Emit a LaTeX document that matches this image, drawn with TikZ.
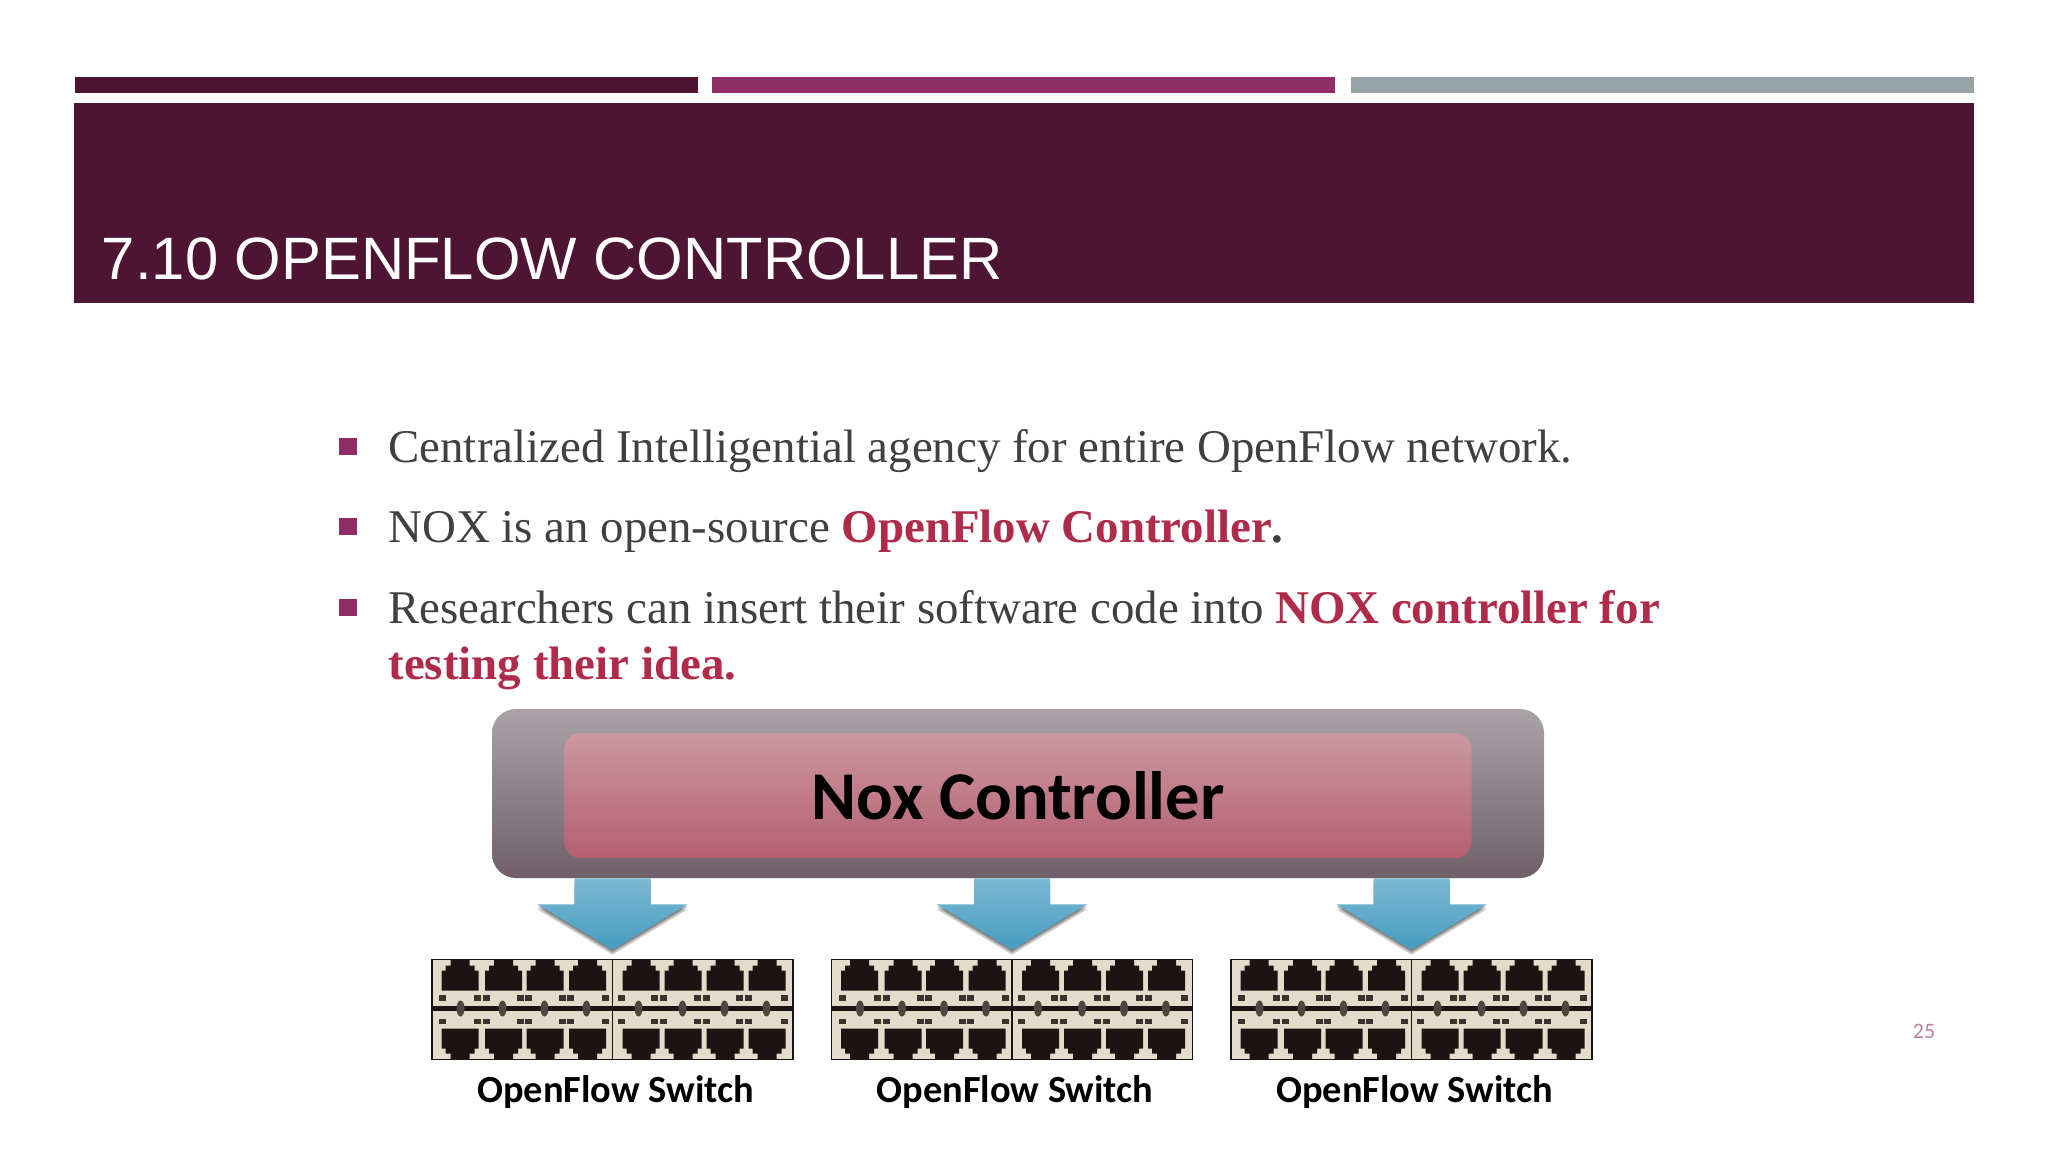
\documentclass[tikz,border=0pt]{standalone}
\usepackage{fontspec}
\setmainfont{Liberation Serif}
\newfontfamily\headfont{Liberation Sans}
\newfontfamily\labelfont{Carlito}
\usetikzlibrary{calc}
\definecolor{plum}{HTML}{4E1433}
\definecolor{berry}{HTML}{8F2D66}
\definecolor{slate}{HTML}{95A3A4}
\definecolor{bodygray}{HTML}{404040}
\definecolor{accent}{HTML}{B02A4A}
\definecolor{portdark}{HTML}{1C1412}
\definecolor{sand}{HTML}{E4DCCA}
\definecolor{outertop}{HTML}{A9A3A7}
\definecolor{outerbot}{HTML}{6F5F69}
\definecolor{innertop}{HTML}{CB98A1}
\definecolor{innerbot}{HTML}{B55F70}
\definecolor{flowtop}{HTML}{7DB8D4}
\definecolor{flowbot}{HTML}{459CC0}
\tikzset{bar/.style={minimum height=8pt,inner sep=0pt,anchor=north west}}
\tikzset{t/.style={font=\fontsize{23.45}{23.45}\selectfont,text=bodygray,inner sep=0pt,anchor=base west}}
\tikzset{tick/.style={fill=berry,inner sep=0pt,minimum width=9pt,minimum height=8.5pt}}
\tikzset{sw/.style={draw=portdark,line width=0.8pt,fill=sand,inner sep=0pt,minimum width=180.5pt,minimum height=50pt}}
\tikzset{swlabel/.style={font=\labelfont\bfseries\fontsize{19.2}{19.2}\selectfont,text=black,inner sep=0pt,anchor=base}}
\newcommand{\portshape}{(0,31) -- (37,31) -- (37,11) -- (33,11) -- (33,6) -- (28,6) -- (28,0) -- (9,0) -- (9,6) -- (4,6) -- (4,11) -- (0,11) -- cycle}
\newcommand{\arrowshape}[3]{($(#1.south -| #2.north)+(-38,#3)$) -- ++(76,0) -- ++(0,26) -- ++(37,0) -- ($(#2.north)+(0,-9+#3)$) -- ($(#1.south -| #2.north)+(-75,26+#3)$) -- ++(37,0) -- cycle}

\begin{document}
\begin{tikzpicture}[x=0.5pt,y=-0.5pt]
  \useasboundingbox (0,0) rectangle (2048,1152);
  \fill[white] (0,0) rectangle (2048,1152);

  \node[bar,fill=plum,minimum width=311.5pt] (bar1) at (75,77) {};
  \node[bar,fill=berry,minimum width=311.5pt] (bar2) at (712,77) {};
  \node[bar,fill=slate,minimum width=311.5pt] (bar3) at (1351,77) {};
  \node[inner sep=0pt,anchor=north west,fill=plum,minimum width=950pt,minimum height=100pt] (band) at (74,103) {};
  \node[font=\headfont\fontsize{29.9}{29.9}\selectfont,text=white,inner sep=0pt,anchor=base west] (title) at (101.5,279) {7.10 OPENFLOW CONTROLLER};

  \node[tick] (tick1) at (348,446.5) {};
  \node[tick] (tick2) at (348,526.5) {};
  \node[tick] (tick3) at (348,607) {};
  \node[t] (line1) at (388,462) {Centralized Intelligential agency for entire OpenFlow network.};
  \node[t] (line2) at (388,542) {NOX is an open-source \textcolor{accent}{\textbf{OpenFlow Controller}}\textbf{.}};
  \node[t] (line3) at (388,623) {Researchers can insert their software code into \textcolor{accent}{\textbf{NOX controller for}}};
  \node[t,text=accent,font=\bfseries\fontsize{23.45}{23.45}\selectfont] (line4) at (388,679) {testing their idea.};

  \node[rounded corners=12pt,top color=outertop,bottom color=outerbot,minimum width=526pt,minimum height=84.5pt,inner sep=0pt] (outer) at (1018,793.5) {};
  \node[rounded corners=8pt,top color=innertop,bottom color=innerbot,minimum width=453.5pt,minimum height=62.5pt,inner sep=0pt,font=\labelfont\bfseries\fontsize{34.2}{34.2}\selectfont,text=black] (ctrl) at (1018,795.5) {Nox Controller};

  \foreach \i/\x in {1/612.5,2/1012,3/1411.5} {
    \node[sw] (sw\i) at (\x,1009.5) {};
    \node[swlabel] (lab\i) at (\x+3,1102) {OpenFlow Switch};
    \foreach \d in {5,3,1.5}
      \fill[black,opacity=0.2] \arrowshape{outer}{sw\i}{\d};
    \shade[top color=flowtop,bottom color=flowbot] \arrowshape{outer}{sw\i}{0};
    \begin{scope}[shift={(sw\i.center)}]
      \draw[portdark,line width=2.4pt] (-180,-1) -- (180,-1);
      \draw[portdark,line width=0.8pt] (0,-50) -- (0,50);
      \foreach \k in {-152,-110,-68,-26,26,70,112,154}
        \fill[portdark!75!sand] (\k,-1) ellipse (4 and 8);
      \foreach \m in {1,-1} {
        \begin{scope}[yscale=\m]
          \foreach \p in {-171,-127.5,-86,-43.5,10,52,94,136}
            \fill[portdark,shift={(\p,-50)}] \portshape;
          \foreach \q in {-170,-135,-126,-92,-84,-50,-42,-7,9,42,51,85,94,127,136,172}
            \fill[portdark!85!sand] (\q-3.5,-14.5) rectangle (\q+3.5,-9);
        \end{scope}
      }
    \end{scope}
  }

  \node[font=\labelfont\fontsize{11}{11}\selectfont,text=berry!60!white,inner sep=0pt] (pagenum) at (1924,1031) {25};
\end{tikzpicture}
\end{document}
